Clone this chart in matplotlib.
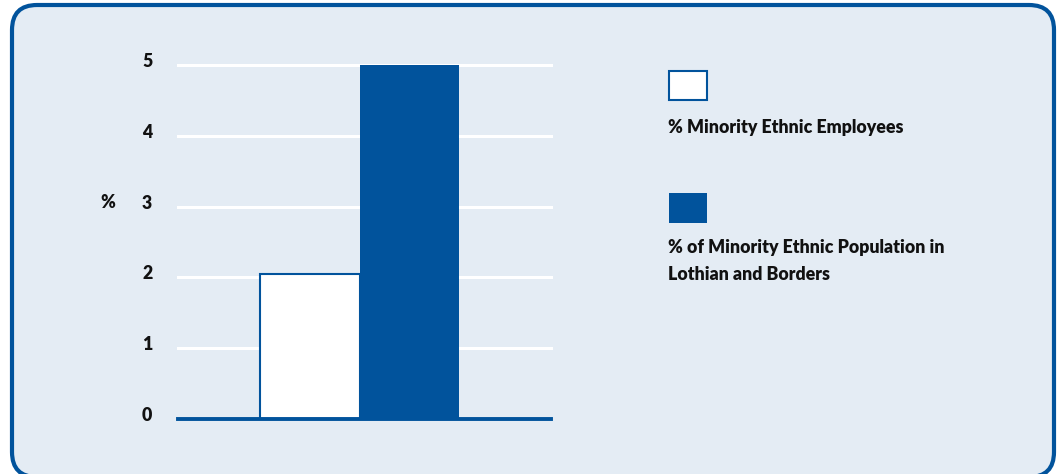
import matplotlib
matplotlib.use("Agg")
import matplotlib.pyplot as plt
import matplotlib.transforms as mtransforms
from matplotlib.patches import FancyBboxPatch, Rectangle

# Data
series_labels = ["% Minority Ethnic Employees",
                 "% of Minority Ethnic Population in\nLothian and Borders"]
series_values = [2.05, 5.0]
y_ticks = [0, 1, 2, 3, 4, 5]

# Styling
BLUE = "#01539c"
PANEL = "#e4ecf4"
FONT = "Lato"
TXT = "#111111"
FS = 12.8

W, H = 1061, 474
fig = plt.figure(figsize=(W / 100, H / 100), dpi=100)
fig.patch.set_facecolor("white")

# Rounded panel drawn in pixel space
bg = fig.add_axes([0, 0, 1, 1], zorder=0)
bg.set_xlim(0, W)
bg.set_ylim(H, 0)
bg.axis("off")
r = 25
left, right, top, bottom = 12, 1054, 5, 477
panel = FancyBboxPatch((left + r, top + r), right - left - 2 * r,
                       bottom - top - 2 * r,
                       boxstyle=f"round,pad={r}",
                       fc=PANEL, ec=BLUE, lw=3)
bg.add_patch(panel)

# Legend swatches and texts
bg.add_patch(Rectangle((669, 71), 38, 29, fc="white", ec=BLUE, lw=1.5))
bg.add_patch(Rectangle((669, 193), 38, 30, fc=BLUE, ec="none"))
bg.text(668, 127, series_labels[0], fontsize=FS, fontweight="heavy",
        family=FONT, va="center", ha="left", color=TXT)
bg.text(668, 261, series_labels[1], fontsize=FS, fontweight="heavy",
        family=FONT, va="center", ha="left", color=TXT,
        linespacing=1.75)

# Bar chart axes
x0, x1, ytop, ybot = 178, 551, 65, 419
ax = fig.add_axes([x0 / W, 1 - ybot / H, (x1 - x0) / W, (ybot - ytop) / H],
                  zorder=1)
ax.set_facecolor("none")
unit = 99.5
ax.set_xlim(-(310 - x0) / unit, (x1 - 310) / unit)
ax.set_ylim(0, 5)

for yv in y_ticks[1:]:
    ax.axhline(yv, color="white", lw=2.2, zorder=1, clip_on=False)

ax.bar([0], [series_values[0]], width=1.0, color="white", edgecolor=BLUE,
       linewidth=1.5, zorder=2)
ax.bar([1], [series_values[1]], width=1.0, color=BLUE, edgecolor="none",
       zorder=2)
ax.axhline(0, color=BLUE, lw=2.8, zorder=3, clip_on=False)

for s in ax.spines.values():
    s.set_visible(False)
ax.set_xticks([])
ax.set_yticks(y_ticks)
ax.set_yticklabels([str(t) for t in y_ticks], fontsize=FS, fontweight="heavy",
                   family=FONT, color=TXT)
ax.tick_params(axis="y", length=0, pad=18.5)
shift = mtransforms.ScaledTranslation(0, 3.5 / 100, fig.dpi_scale_trans)
for lbl in ax.get_yticklabels():
    lbl.set_va("center")
    lbl.set_transform(lbl.get_transform() + shift)

bg.text(108, 203, "%", fontsize=FS, fontweight="heavy", family=FONT,
        ha="center", va="center", color=TXT)

fig.savefig("out.png", dpi=100, facecolor="white")
